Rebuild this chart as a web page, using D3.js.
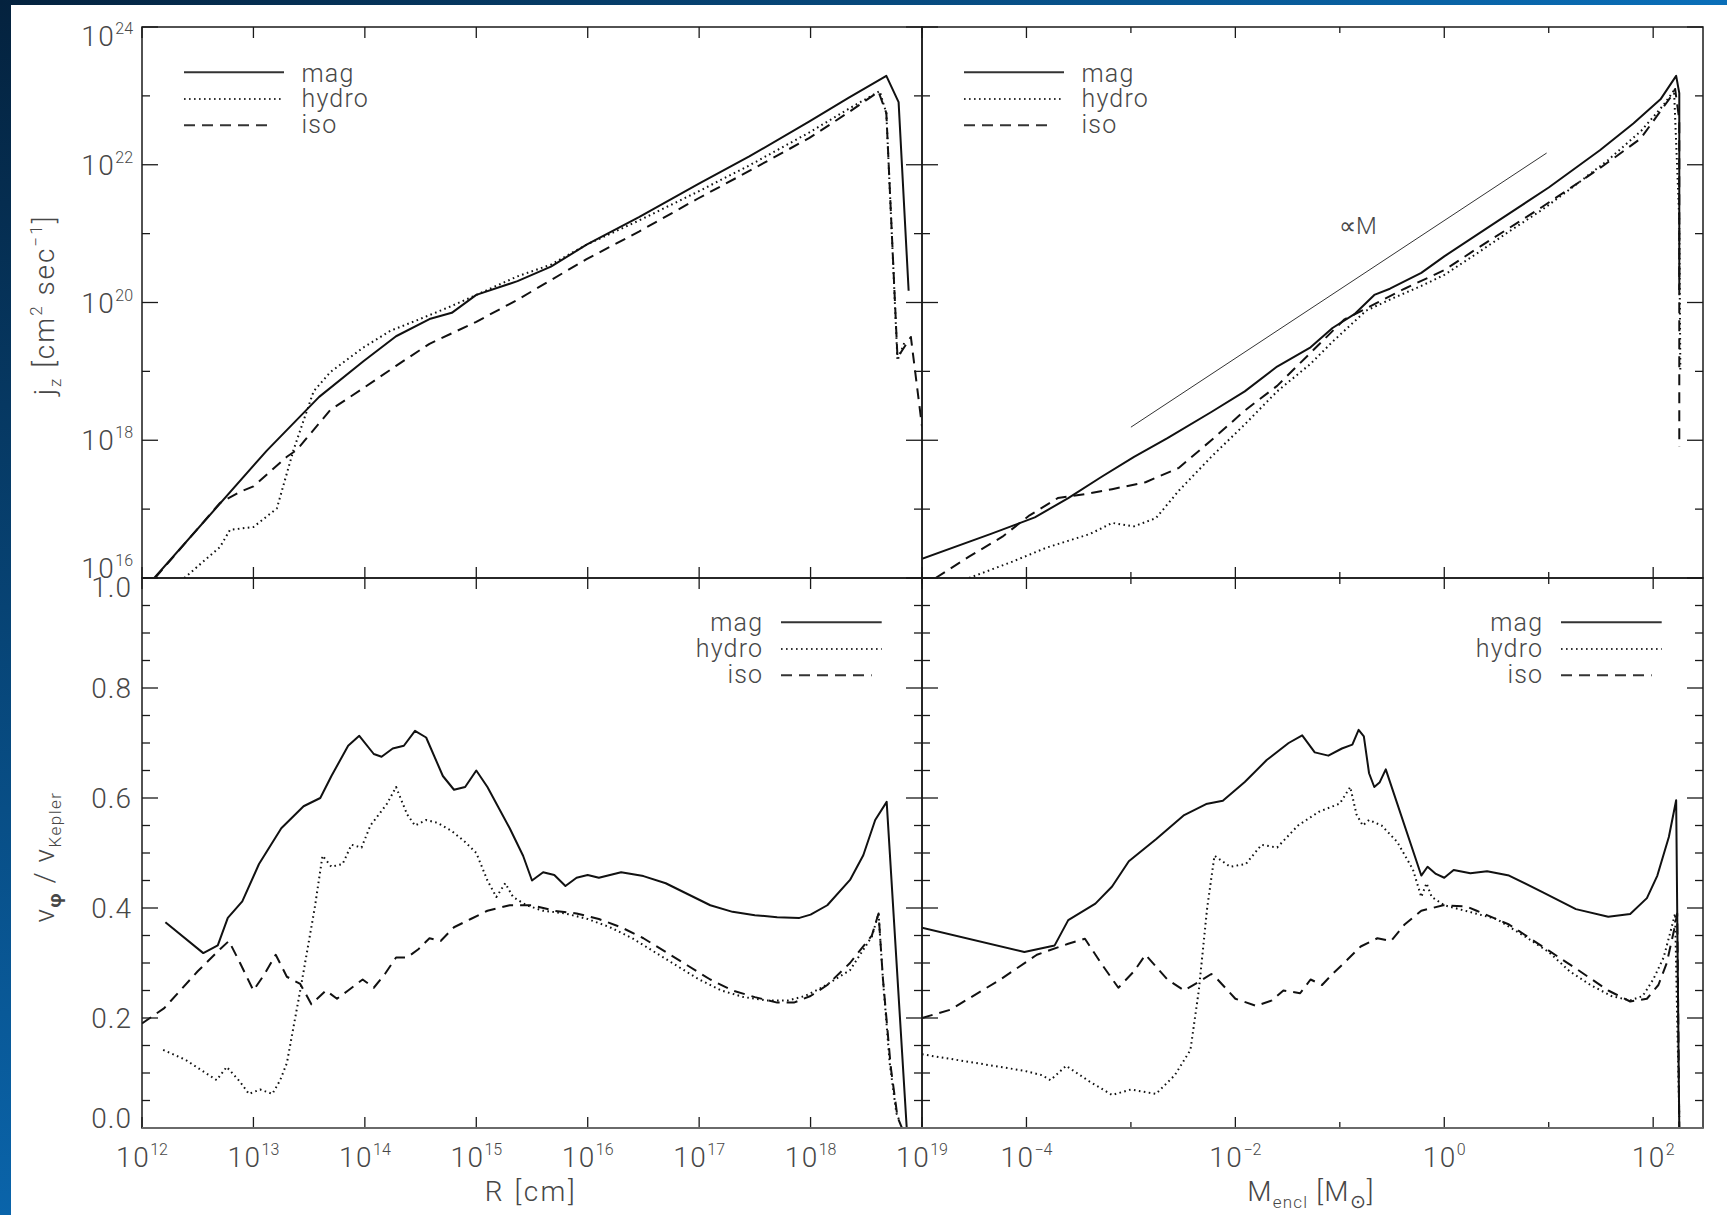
<!DOCTYPE html>
<html>
<head>
<meta charset="utf-8">
<script src="https://cdn.jsdelivr.net/npm/d3@7"></script>
<style>
  html, body { margin: 0; padding: 0; background: #fff; }
  svg { display: block; }
  text { font-family: Roboto, "DejaVu Sans", sans-serif; font-weight: 300; fill: #474747; }
</style>
</head>
<body>
<svg id="chart" width="1727" height="1215"></svg>
<script>
// ---------------------------------------------------------------------------
// Specific angular momentum j_z and rotation support v_phi / v_Kepler
// for the three runs (mag, hydro, iso), against radius R and enclosed mass.
// Coordinates are stored as log10 values where the axis is logarithmic.
// ---------------------------------------------------------------------------

// j_z vs R : [log10 R (cm), log10 j_z (cm^2 s^-1)]
const jzR_mag = [[12.11,16.0],[13.12,17.85],[13.59,18.63],[13.99,19.15],[14.28,19.51],[14.58,19.76],[14.78,19.85],[15.0,20.11],[15.37,20.31],[15.67,20.52],[15.99,20.84],[16.46,21.24],[16.99,21.72],[17.45,22.12],[17.99,22.63],[18.34,22.97],[18.68,23.29],[18.79,22.91],[18.88,20.17]];
const jzR_hydro = [[12.38,16.0],[12.70,16.45],[12.79,16.70],[13.0,16.74],[13.21,17.01],[13.36,17.86],[13.54,18.71],[13.69,18.99],[13.99,19.35],[14.23,19.59],[14.48,19.75],[14.78,19.95],[15.0,20.11],[15.37,20.38],[15.67,20.55],[15.99,20.84],[16.46,21.19],[16.99,21.61],[17.45,21.99],[17.99,22.47],[18.34,22.81],[18.62,23.07],[18.68,22.75],[18.78,19.16],[18.85,19.45]];
const jzR_iso = [[12.117,16.0],[12.70,17.09],[12.88,17.25],[13.0,17.33],[13.30,17.76],[13.39,17.86],[13.69,18.44],[13.99,18.76],[14.28,19.08],[14.58,19.40],[15.0,19.72],[15.37,20.04],[15.99,20.63],[16.46,21.03],[16.99,21.51],[17.45,21.91],[17.99,22.39],[18.34,22.76],[18.61,23.06],[18.68,22.75],[18.78,19.2],[18.90,19.5],[19.0,18.2]];

// j_z vs M_encl : [log10 M (Msun), log10 j_z]
const jzM_mag = [[-5.0,16.28],[-4.34,16.64],[-3.92,16.88],[-3.60,17.16],[-3.28,17.47],[-2.97,17.76],[-2.65,18.03],[-2.23,18.41],[-1.91,18.71],[-1.60,19.07],[-1.28,19.35],[-1.07,19.63],[-0.86,19.83],[-0.67,20.11],[-0.52,20.20],[-0.22,20.43],[0.0,20.67],[0.5,21.17],[1.0,21.67],[1.49,22.21],[1.81,22.60],[2.07,22.95],[2.22,23.29],[2.25,23.04],[2.25,20.18]];
const jzM_hydro = [[-4.55,16.0],[-4.13,16.24],[-3.81,16.44],[-3.39,16.64],[-3.18,16.80],[-2.97,16.75],[-2.76,16.87],[-2.54,17.27],[-2.23,17.76],[-1.91,18.23],[-1.60,18.71],[-1.28,19.11],[-1.07,19.43],[-0.75,19.88],[-0.48,20.07],[-0.22,20.24],[0.0,20.40],[0.31,20.71],[0.62,21.03],[0.94,21.35],[1.26,21.71],[1.57,22.07],[1.89,22.5],[2.10,22.87],[2.20,23.08],[2.25,21.19],[2.26,19.02]];
const jzM_iso = [[-4.87,16.0],[-4.55,16.31],[-4.23,16.60],[-3.97,16.91],[-3.70,17.16],[-3.39,17.23],[-3.18,17.29],[-2.86,17.39],[-2.54,17.60],[-2.23,18.0],[-1.91,18.43],[-1.60,18.79],[-1.28,19.27],[-0.96,19.75],[-0.65,19.99],[-0.38,20.20],[0.0,20.47],[0.31,20.78],[0.62,21.08],[0.94,21.39],[1.49,21.95],[1.88,22.38],[2.18,23.01],[2.21,23.1],[2.25,22.65],[2.25,17.91]];

// reference power law j ∝ M : [log10 M, log10 j]
const propM = [[-3.0,18.19],[0.98,22.17]];

// v_phi / v_Kepler vs R : [log10 R (cm), ratio]
const vR_mag = [[12.21,0.374],[12.55,0.318],[12.68,0.332],[12.77,0.382],[12.9,0.412],[13.05,0.48],[13.25,0.545],[13.45,0.585],[13.6,0.60],[13.7,0.64],[13.85,0.695],[13.95,0.713],[14.08,0.68],[14.15,0.675],[14.25,0.69],[14.35,0.695],[14.45,0.722],[14.55,0.71],[14.7,0.64],[14.8,0.615],[14.9,0.62],[15.0,0.65],[15.1,0.62],[15.3,0.545],[15.42,0.495],[15.5,0.45],[15.6,0.465],[15.7,0.46],[15.8,0.44],[15.9,0.455],[16.0,0.46],[16.1,0.455],[16.3,0.465],[16.5,0.458],[16.7,0.445],[16.9,0.425],[17.1,0.405],[17.3,0.393],[17.5,0.387],[17.7,0.383],[17.9,0.382],[18.0,0.388],[18.15,0.405],[18.354,0.451],[18.473,0.496],[18.58,0.56],[18.683,0.593],[18.863,0.0],[19.0,0.0]];
const vR_hydro = [[12.19,0.142],[12.39,0.124],[12.67,0.087],[12.76,0.111],[12.88,0.084],[12.96,0.062],[13.06,0.07],[13.17,0.062],[13.24,0.087],[13.30,0.118],[13.42,0.25],[13.55,0.4],[13.62,0.495],[13.7,0.475],[13.8,0.48],[13.88,0.515],[13.97,0.51],[14.05,0.55],[14.2,0.59],[14.28,0.62],[14.38,0.57],[14.45,0.55],[14.55,0.56],[14.65,0.555],[14.78,0.54],[14.9,0.52],[15.0,0.50],[15.1,0.45],[15.18,0.42],[15.26,0.445],[15.33,0.42],[15.45,0.405],[15.6,0.395],[15.8,0.39],[16.0,0.38],[16.2,0.365],[16.4,0.345],[16.6,0.32],[16.8,0.295],[17.0,0.27],[17.2,0.25],[17.4,0.238],[17.6,0.232],[17.8,0.232],[17.95,0.24],[18.1,0.255],[18.354,0.287],[18.55,0.348],[18.61,0.39],[18.65,0.269],[18.71,0.118],[18.77,0.027],[18.80,0.012]];
const vR_iso = [[12.0,0.19],[12.2,0.218],[12.5,0.285],[12.7,0.325],[12.78,0.34],[12.88,0.30],[13.0,0.25],[13.1,0.28],[13.2,0.315],[13.3,0.275],[13.42,0.262],[13.52,0.225],[13.65,0.25],[13.75,0.235],[13.85,0.25],[13.98,0.27],[14.08,0.255],[14.18,0.28],[14.28,0.31],[14.38,0.31],[14.48,0.325],[14.58,0.345],[14.68,0.34],[14.8,0.365],[14.95,0.38],[15.1,0.395],[15.3,0.405],[15.5,0.405],[15.7,0.395],[15.9,0.39],[16.1,0.38],[16.3,0.365],[16.5,0.345],[16.7,0.32],[16.9,0.295],[17.1,0.27],[17.3,0.25],[17.5,0.238],[17.7,0.228],[17.85,0.228],[18.0,0.24],[18.15,0.26],[18.354,0.30],[18.55,0.35],[18.61,0.39],[18.65,0.27],[18.72,0.11],[18.78,0.02],[18.82,0.0]];

// v_phi / v_Kepler vs M_encl : [log10 M (Msun), ratio]
const vM_mag = [[-5.0,0.364],[-4.02,0.32],[-3.73,0.332],[-3.60,0.378],[-3.34,0.408],[-3.18,0.439],[-3.02,0.485],[-2.76,0.525],[-2.49,0.569],[-2.28,0.589],[-2.12,0.595],[-1.91,0.629],[-1.70,0.669],[-1.49,0.700],[-1.36,0.714],[-1.24,0.683],[-1.11,0.677],[-0.98,0.69],[-0.88,0.697],[-0.82,0.724],[-0.77,0.712],[-0.72,0.645],[-0.67,0.62],[-0.62,0.628],[-0.56,0.652],[-0.22,0.459],[-0.16,0.475],[-0.08,0.462],[0.0,0.455],[0.09,0.469],[0.25,0.463],[0.41,0.467],[0.62,0.459],[0.94,0.429],[1.26,0.398],[1.57,0.384],[1.78,0.389],[1.94,0.418],[2.04,0.459],[2.15,0.529],[2.22,0.596],[2.25,0.0]];
const vM_hydro = [[-5.0,0.134],[-4.02,0.104],[-3.85,0.096],[-3.77,0.087],[-3.62,0.113],[-3.4,0.085],[-3.18,0.06],[-3.0,0.07],[-2.76,0.062],[-2.58,0.096],[-2.43,0.142],[-2.35,0.25],[-2.27,0.40],[-2.2,0.495],[-2.05,0.475],[-1.9,0.48],[-1.75,0.515],[-1.6,0.51],[-1.4,0.55],[-1.2,0.575],[-1.0,0.59],[-0.9,0.62],[-0.84,0.57],[-0.78,0.55],[-0.72,0.56],[-0.6,0.55],[-0.45,0.52],[-0.3,0.47],[-0.22,0.42],[-0.17,0.445],[-0.12,0.42],[0.0,0.405],[0.2,0.395],[0.5,0.38],[0.8,0.345],[1.0,0.32],[1.2,0.285],[1.4,0.26],[1.6,0.24],[1.78,0.232],[1.9,0.24],[2.0,0.27],[2.1,0.31],[2.17,0.36],[2.21,0.39],[2.23,0.2],[2.25,0.02]];
const vM_iso = [[-5.0,0.2],[-4.73,0.215],[-4.25,0.27],[-3.9,0.315],[-3.6,0.335],[-3.44,0.344],[-3.28,0.298],[-3.12,0.255],[-2.97,0.285],[-2.86,0.315],[-2.65,0.27],[-2.49,0.25],[-2.33,0.268],[-2.23,0.28],[-2.17,0.27],[-2.0,0.235],[-1.8,0.222],[-1.65,0.232],[-1.54,0.25],[-1.38,0.245],[-1.28,0.27],[-1.17,0.26],[-1.07,0.28],[-0.96,0.30],[-0.80,0.33],[-0.64,0.345],[-0.51,0.34],[-0.38,0.37],[-0.22,0.395],[-0.01,0.405],[0.21,0.403],[0.31,0.395],[0.62,0.37],[0.94,0.33],[1.26,0.29],[1.57,0.25],[1.78,0.23],[1.94,0.235],[2.05,0.26],[2.13,0.30],[2.20,0.36],[2.23,0.39],[2.25,0.0]];

// axis tick labels
const radiusExponents = [12, 13, 14, 15, 16, 17, 18, 19];
const massExponents = [-4, -2, 0, 2];
const jzExponents = [24, 22, 20, 18, 16];
const ratioTicks = [0.0, 0.2, 0.4, 0.6, 0.8, 1.0];
const seriesNames = ["mag", "hydro", "iso"];

// ---------------------------------------------------------------------------
const W = 1727, H = 1215;
const L = 142, MX = 922, RT = 1703, T = 27, MY = 578, B = 1128;
const svg = d3.select("#chart");

// page backdrop with the dark blue border strips
const defs = svg.append("defs");
const gv = defs.append("linearGradient").attr("id", "edgeV").attr("x1", 0).attr("y1", 0).attr("x2", 0).attr("y2", 1);
gv.append("stop").attr("offset", 0).attr("stop-color", "#04223e");
gv.append("stop").attr("offset", 1).attr("stop-color", "#0a64aa");
const gh = defs.append("linearGradient").attr("id", "edgeH").attr("x1", 0).attr("y1", 0).attr("x2", 1).attr("y2", 0);
gh.append("stop").attr("offset", 0).attr("stop-color", "#04223e");
gh.append("stop").attr("offset", 1).attr("stop-color", "#0a6fb9");
svg.append("rect").attr("width", W).attr("height", H).attr("fill", "#fff");
svg.append("rect").attr("x", 0).attr("y", 0).attr("width", 11).attr("height", H).attr("fill", "url(#edgeV)");
svg.append("rect").attr("x", 0).attr("y", 0).attr("width", W).attr("height", 5).attr("fill", "url(#edgeH)");

// scales
const xR = d3.scaleLog().domain([1e12, 1e19]).range([L, MX]);
const xM = d3.scaleLog().domain([1e-5, Math.pow(10, 2.477)]).range([MX, RT]);
const yJ = d3.scaleLog().domain([1e16, 1e24]).range([MY, T]);
const yV = d3.scaleLinear().domain([0, 1]).range([B, MY]);

const p10 = v => Math.pow(10, v);
const logLog = d => [p10(d[0]), p10(d[1])];
const logLin = d => [p10(d[0]), d[1]];

const panels = [
  { id: "tl", x: xR, y: yJ, conv: logLog, series: [jzR_mag, jzR_hydro, jzR_iso] },
  { id: "tr", x: xM, y: yJ, conv: logLog, series: [jzM_mag, jzM_hydro, jzM_iso] },
  { id: "bl", x: xR, y: yV, conv: logLin, series: [vR_mag, vR_hydro, vR_iso] },
  { id: "br", x: xM, y: yV, conv: logLin, series: [vM_mag, vM_hydro, vM_iso] }
];

const lineStyle = {
  mag:   { dash: null,      width: 2.0 },
  hydro: { dash: "1.6,3.4", width: 2.0 },
  iso:   { dash: "11,7",    width: 2.0 }
};

panels.forEach(p => {
  const [x0, x1] = p.x.range();
  const [y0, y1] = p.y.range();
  defs.append("clipPath").attr("id", "clip-" + p.id)
    .append("rect").attr("x", x0).attr("y", y1).attr("width", x1 - x0).attr("height", y0 - y1);
  const g = svg.append("g").attr("clip-path", "url(#clip-" + p.id + ")");
  const line = d3.line().x(d => p.x(d[0])).y(d => p.y(d[1]));
  p.series.forEach((s, i) => {
    const st = lineStyle[seriesNames[i]];
    g.append("path")
      .attr("d", line(s.map(p.conv)))
      .attr("fill", "none")
      .attr("stroke", "#111")
      .attr("stroke-width", st.width)
      .attr("stroke-linejoin", "round")
      .attr("stroke-dasharray", st.dash);
  });
  if (p.id === "tr") {
    g.append("path")
      .attr("d", line(propM.map(logLog)))
      .attr("fill", "none").attr("stroke", "#333").attr("stroke-width", 1);
  }
});

// frames and inward ticks
const axes = svg.append("g").attr("stroke", "#1a1a1a").attr("fill", "none");
panels.forEach(p => {
  const [x0, x1] = p.x.range();
  const [y0, y1] = p.y.range();
  axes.append("rect").attr("x", x0).attr("y", y1).attr("width", x1 - x0).attr("height", y0 - y1).attr("stroke-width", 1.5);

  // x ticks
  let xt;
  if (p.x === xR) xt = d3.range(12, 20).map(e => ({ v: p10(e), len: 11 }));
  else xt = d3.range(-5, 3).map(e => ({ v: p10(e), len: (e % 2 === 0) ? 11 : 6 }));
  xt.forEach(t => {
    const xx = p.x(t.v);
    axes.append("line").attr("x1", xx).attr("x2", xx).attr("y1", y0).attr("y2", y0 - t.len).attr("stroke-width", 1.3);
    axes.append("line").attr("x1", xx).attr("x2", xx).attr("y1", y1).attr("y2", y1 + t.len).attr("stroke-width", 1.3);
  });
  // y ticks
  let yt;
  if (p.y === yJ) yt = d3.range(16, 25).map(e => ({ v: p10(e), len: (e % 2 === 0) ? 16 : 8 }));
  else yt = d3.range(0, 21).map(k => ({ v: k * 0.05, len: (k % 4 === 0) ? 16 : 8 }));
  yt.forEach(t => {
    const yy = p.y(t.v);
    axes.append("line").attr("x1", x0).attr("x2", x0 + t.len).attr("y1", yy).attr("y2", yy).attr("stroke-width", 1.3);
    axes.append("line").attr("x1", x1).attr("x2", x1 - t.len).attr("y1", yy).attr("y2", yy).attr("stroke-width", 1.3);
  });
});
// the lower border reads a little heavier and greyer
axes.append("line").attr("x1", L).attr("x2", RT).attr("y1", B).attr("y2", B)
  .attr("stroke", "#6a6a6a").attr("stroke-width", 2.2);

// tick labels
const labels = svg.append("g");
const minus = s => String(s).replace("-", "\u2212");
function powerLabel(x, y, exp, anchor) {
  const t = labels.append("text").attr("x", x).attr("y", y).attr("text-anchor", anchor).attr("font-size", 28);
  t.append("tspan").attr("letter-spacing", 1.5).text("10");
  t.append("tspan").attr("dy", -12).attr("font-size", 16).text(minus(exp));
  return t;
}
jzExponents.forEach(e => {
  const off = e === 24 ? 19 : (e === 16 ? 0 : 10);
  powerLabel(133, yJ(p10(e)) + off, e, "end");
});
ratioTicks.forEach(v => {
  const off = v === 1 ? 19 : (v === 0 ? 0 : 10);
  labels.append("text").attr("x", 132).attr("y", yV(v) + off).attr("text-anchor", "end")
    .attr("font-size", 28).attr("letter-spacing", 1).text(d3.format(".1f")(v));
});
radiusExponents.forEach(e => powerLabel(xR(p10(e)), 1167, e, "middle"));
massExponents.forEach(e => powerLabel(xM(p10(e)), 1167, e, "middle"));

// axis titles
const tR = labels.append("text").attr("x", 531).attr("y", 1201).attr("text-anchor", "middle")
  .attr("font-size", 28).attr("letter-spacing", 2.5);
tR.text("R [cm]");

const tM = labels.append("text").attr("x", 1311).attr("y", 1201).attr("text-anchor", "middle")
  .attr("font-size", 28).attr("letter-spacing", 1.2);
tM.append("tspan").text("M");
tM.append("tspan").attr("dy", 7).attr("font-size", 17).text("encl");
tM.append("tspan").attr("dy", -7).text(" [M");
tM.append("tspan").attr("dy", 7).attr("font-size", 19).text("\u2299");
tM.append("tspan").attr("dy", -7).text("]");

const tJ = labels.append("text").attr("transform", "translate(54,305) rotate(-90)").attr("text-anchor", "middle")
  .attr("font-size", 28).attr("letter-spacing", 2);
tJ.append("tspan").text("j");
tJ.append("tspan").attr("dy", 7).attr("font-size", 17).text("z");
tJ.append("tspan").attr("dy", -7).text(" [cm");
tJ.append("tspan").attr("dy", -12).attr("font-size", 17).text("2");
tJ.append("tspan").attr("dy", 12).text(" sec");
tJ.append("tspan").attr("dy", -12).attr("font-size", 17).text("\u22121");
tJ.append("tspan").attr("dy", 12).text("]");

const tV = labels.append("text").attr("transform", "translate(54,857) rotate(-90)").attr("text-anchor", "middle")
  .attr("font-size", 28).attr("letter-spacing", 1.5);
tV.append("tspan").text("v");
tV.append("tspan").attr("dy", 7).attr("font-size", 19).attr("font-weight", 700).text("\u03c6");
tV.append("tspan").attr("dy", -7).text("  /  v");
tV.append("tspan").attr("dy", 7).attr("font-size", 17).text("Kepler");

// proportionality note next to the reference line
labels.append("text").attr("x", 1339).attr("y", 234).attr("font-size", 24).text("\u221dM");

// legends
function legend(lineX0, lineX1, textX, anchor, lineYs, baseYs) {
  seriesNames.forEach((name, i) => {
    const st = lineStyle[name];
    const x1 = name === "iso" ? lineX1 - 10 : lineX1;
    svg.append("line").attr("x1", lineX0).attr("x2", x1).attr("y1", lineYs[i]).attr("y2", lineYs[i])
      .attr("stroke", "#333").attr("stroke-width", 2).attr("stroke-dasharray", st.dash);
    labels.append("text").attr("x", textX).attr("y", baseYs[i]).attr("text-anchor", anchor)
      .attr("font-size", 25).attr("letter-spacing", 1.2).text(name);
  });
}
legend(184, 284, 301.5, "start", [72.3, 99, 125.3], [81.7, 106.7, 132.7]);
legend(184 + 780, 284 + 780, 301.5 + 780, "start", [72.3, 99, 125.3], [81.7, 106.7, 132.7]);
legend(781, 881.7, 763.3, "end", [622.3, 649, 675.3], [631, 656.7, 682.7]);
legend(781 + 780, 881.7 + 780, 763.3 + 780, "end", [622.3, 649, 675.3], [631, 656.7, 682.7]);
</script>
</body>
</html>
